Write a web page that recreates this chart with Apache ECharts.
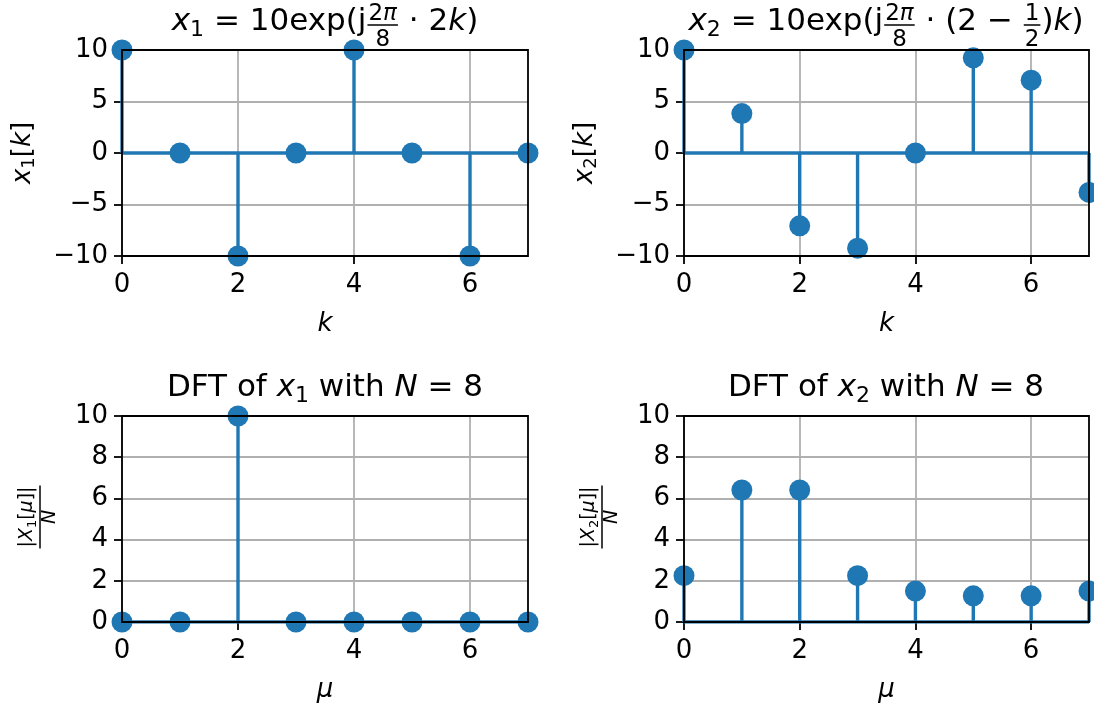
<!DOCTYPE html>
<html>
<head>
<meta charset="utf-8">
<script src="https://cdn.jsdelivr.net/npm/echarts@6/dist/echarts.min.js"></script>
<style>
html, body { margin: 0; padding: 0; background: #fff; }
#main { width: 1094px; height: 706px; }
</style>
</head>
<body>
<div id="main"></div>
<script>
// sample index and signal values
var k = [0, 1, 2, 3, 4, 5, 6, 7];
var x1 = [10, 0, -10, 0, 10, 0, -10, 0];
var x2 = [10, 3.83, -7.07, -9.24, 0, 9.24, 7.07, -3.83];
var mu = [0, 1, 2, 3, 4, 5, 6, 7];
var X1 = [0, 0, 10, 0, 0, 0, 0, 0];
var X2 = [2.25, 6.41, 6.41, 2.25, 1.50, 1.27, 1.27, 1.50];
var xTicks = [0, 2, 4, 6];

var BLUE = '#1f77b4';
var FAM = '"DejaVu Sans"';
var myChart = echarts.init(document.getElementById('main'));

// --- little helper to lay out mathtext-like labels as graphic texts ---
var ctx = document.createElement('canvas').getContext('2d');
function fontOf(s) { return (s.it ? 'italic ' : '') + s.size + 'px ' + FAM; }
function measure(s) { ctx.font = fontOf(s); return ctx.measureText(s.t).width; }
function seg(t, size, it, b) { return { t: t, size: size, it: !!it, b: b || 0 }; }
function frac(num, den, barOff, numB, denB) {
    return { frac: true, num: num, den: den, barOff: barOff, numB: numB, denB: denB };
}
function runWidth(list) {
    var w = 0;
    list.forEach(function (s) { w += s.frac ? fracWidth(s) : measure(s); });
    return w;
}
function fracWidth(f) { return Math.max(runWidth(f.num), runWidth(f.den)) + 4; }
function placeRun(list, x, base, out) {
    list.forEach(function (s) {
        if (s.frac) {
            var W = fracWidth(s);
            placeRun(s.num, x + (W - runWidth(s.num)) / 2, base + s.numB, out);
            placeRun(s.den, x + (W - runWidth(s.den)) / 2, base + s.denB, out);
            out.push({
                type: 'line', silent: true,
                shape: { x1: x + 1, y1: base + s.barOff, x2: x + W - 1, y2: base + s.barOff },
                style: { stroke: '#000', lineWidth: 1.5 }
            });
            x += W;
        } else {
            out.push({
                type: 'text', silent: true,
                x: x, y: base + s.b - 0.35 * s.size,
                style: {
                    text: s.t, font: fontOf(s), fill: '#000',
                    textAlign: 'left', verticalAlign: 'middle', textVerticalAlign: 'middle'
                }
            });
            x += measure(s);
        }
    });
    return x;
}
function mathLabel(list, cx, base, rot) {
    var kids = [];
    placeRun(list, -runWidth(list) / 2, 0, kids);
    return { type: 'group', x: cx, y: base, rotation: rot || 0, children: kids };
}

var T = 31, S = 22, Q = 23, L = 26, F = 19;
var titles = [
    mathLabel([seg('x', T, true), seg('1', S, false, 5), seg(' = 10exp(j', T),
        frac([seg('2', Q), seg('π', Q, true)], [seg('8', Q)], -8, -11, 15),
        seg(' · 2', T), seg('k', T, true), seg(')', T)], 325, 33),
    mathLabel([seg('x', T, true), seg('2', S, false, 5), seg(' = 10exp(j', T),
        frac([seg('2', Q), seg('π', Q, true)], [seg('8', Q)], -8, -11, 15),
        seg(' · (2 − ', T),
        frac([seg('1', Q)], [seg('2', Q)], -8, -11, 15),
        seg(')', T), seg('k', T, true), seg(')', T)], 886, 33),
    mathLabel([seg('DFT of ', T), seg('x', T, true), seg('1', S, false, 5),
        seg(' with ', T), seg('N', T, true), seg(' = 8', T)], 325, 399),
    mathLabel([seg('DFT of ', T), seg('x', T, true), seg('2', S, false, 5),
        seg(' with ', T), seg('N', T, true), seg(' = 8', T)], 886, 399)
];
function dftNum(n) {
    return [seg('|', F), seg('X', F, true), seg(n, 13, false, 3), seg('[', F),
        seg('μ', F, true), seg(']', F), seg('|', F)];
}
var ylabels = [
    mathLabel([seg('x', L, true), seg('1', 18, false, 4), seg('[', L), seg('k', L, true), seg(']', L)],
        32, 153, Math.PI / 2),
    mathLabel([seg('x', L, true), seg('2', 18, false, 4), seg('[', L), seg('k', L, true), seg(']', L)],
        594, 153, Math.PI / 2),
    mathLabel([frac(dftNum('1'), [seg('N', F, true)], 0, -6, 17)], 40, 517, Math.PI / 2),
    mathLabel([frac(dftNum('2'), [seg('N', F, true)], 0, -6, 17)], 602, 517, Math.PI / 2)
];

// --- four panels ---
var grids = [
    { left: 122, top: 50, width: 406, height: 206 },
    { left: 684, top: 50, width: 405, height: 206 },
    { left: 122, top: 416, width: 406, height: 206 },
    { left: 684, top: 416, width: 405, height: 206 }
];
var panels = [
    { x: k, y: x1, name: 'k', min: -10, max: 10, step: 5 },
    { x: k, y: x2, name: 'k', min: -10, max: 10, step: 5 },
    { x: mu, y: X1, name: 'μ', min: 0, max: 10, step: 2 },
    { x: mu, y: X2, name: 'μ', min: 0, max: 10, step: 2 }
];

var labelStyle = { fontSize: L, color: '#000', fontFamily: FAM };
var tickStyle = { show: true, inside: false, length: 8, lineStyle: { color: '#000', width: 1.8 } };
var gridLine = { show: true, lineStyle: { color: '#b0b0b0', width: 1.8 } };

var xAxes = [], yAxes = [], series = [];
panels.forEach(function (p, i) {
    grids[i].show = true;
    grids[i].borderColor = '#000';
    grids[i].borderWidth = 1.8;
    grids[i].z = 10;
    xAxes.push({
        gridIndex: i, type: 'value', min: 0, max: 7, interval: 2,
        axisLine: { show: false, onZero: false },
        axisTick: Object.assign({ customValues: xTicks }, tickStyle),
        axisLabel: Object.assign({ customValues: xTicks, margin: 16 }, labelStyle),
        splitLine: gridLine,
        name: p.name, nameLocation: 'middle', nameGap: 55,
        nameTextStyle: { fontSize: L, fontStyle: 'italic', color: '#000', fontFamily: FAM }
    });
    yAxes.push({
        gridIndex: i, type: 'value', min: p.min, max: p.max, interval: p.step,
        axisLine: { show: false, onZero: false },
        axisTick: tickStyle,
        axisLabel: Object.assign({
            margin: 14,
            formatter: function (v) { return v < 0 ? '\u2212' + (-v) : String(v); }
        }, labelStyle),
        splitLine: gridLine
    });
    var pts = p.x.map(function (v, j) { return [v, p.y[j]]; });
    series.push({
        type: 'bar', xAxisIndex: i, yAxisIndex: i, data: pts,
        barWidth: 3.4, itemStyle: { color: BLUE }, z: 2
    });
    series.push({
        type: 'line', xAxisIndex: i, yAxisIndex: i,
        data: p.x.map(function (v) { return [v, 0]; }),
        symbol: 'none', lineStyle: { color: BLUE, width: 3.4 }, z: 3
    });
    series.push({
        type: 'scatter', xAxisIndex: i, yAxisIndex: i, data: pts,
        symbolSize: 21, itemStyle: { color: BLUE, opacity: 1 }, z: 4, clip: false
    });
});

var option = {
    animation: false,
    backgroundColor: '#fff',
    grid: grids,
    xAxis: xAxes,
    yAxis: yAxes,
    series: series,
    graphic: { elements: titles.concat(ylabels) }
};
myChart.setOption(option);
</script>
</body>
</html>
